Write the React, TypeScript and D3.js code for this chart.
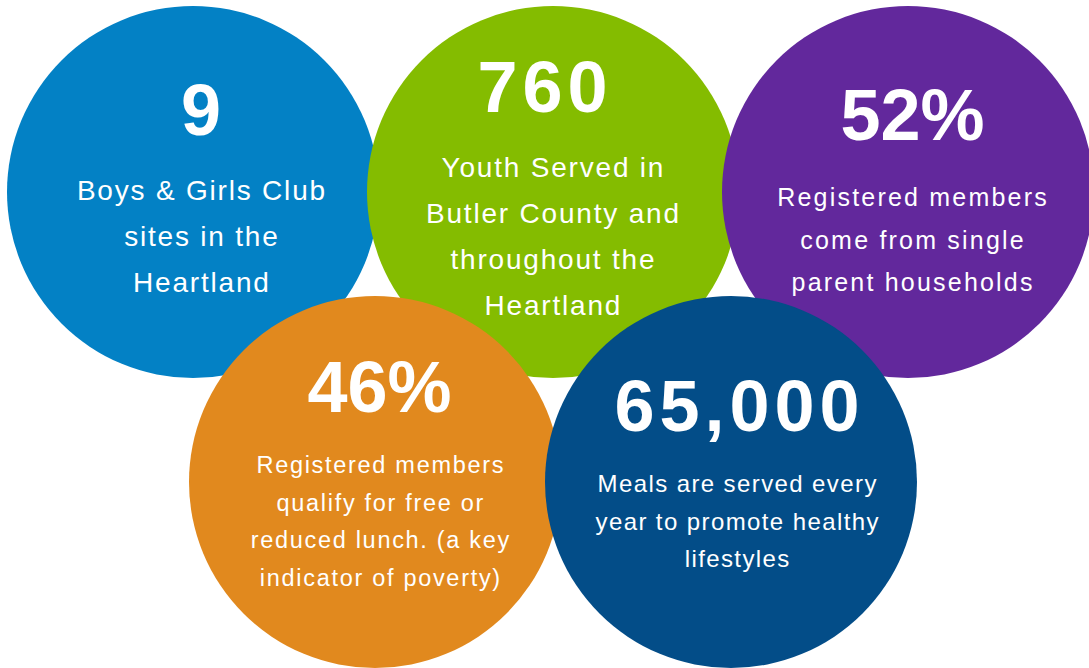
import React from "react";
import * as d3 from "d3";

const stats = ["9", "760", "52%", "46%", "65,000"];
const descriptions = [
  ["Boys & Girls Club", "sites in the", "Heartland"],
  ["Youth Served in", "Butler County and", "throughout the", "Heartland"],
  ["Registered members", "come from single", "parent households"],
  ["Registered members", "qualify for free or", "reduced lunch. (a key", "indicator of poverty)"],
  ["Meals are served every", "year to promote healthy", "lifestyles"],
];
const colors = ["#0381C5", "#84BC00", "#62289C", "#E1891E", "#034D88"];

// layout (positions/styles)
const W = 1089;
const H = 668;
const R = 186;
const layout = [
  { cx: 193, cy: 192, nx: 201, tx: 201, numY: 135, nls: 5, bodyY: 200, lh: 46, fs: 28, ls: 1.8 },
  { cx: 553, cy: 192, nx: 542.5, tx: 552.5, numY: 112, nls: 5, bodyY: 177, lh: 46, fs: 28, ls: 1.8 },
  { cx: 908, cy: 192, nx: 912.5, tx: 912, numY: 140, nls: 0, bodyY: 206, lh: 42.5, fs: 25, ls: 2.2 },
  { cx: 375, cy: 482, nx: 379.5, tx: 380, numY: 412, nls: 0, bodyY: 473, lh: 37.7, fs: 23.5, ls: 1.7 },
  { cx: 731, cy: 482, nx: 737, tx: 737, numY: 431, nls: 5, bodyY: 492, lh: 37.5, fs: 24, ls: 1.4 },
];

const FONT = "'Liberation Sans', Arial, sans-serif";

export default function App() {
  const rScale = d3.scaleSqrt().domain([0, 1]).range([0, R]);
  return (
    <svg
      width={W}
      height={H}
      style={{ position: "absolute", left: 0, top: 0, display: "block", background: "#fff" }}
    >
      {stats.map((s, i) => {
        const L = layout[i];
        return (
          <g key={i}>
            <circle cx={L.cx} cy={L.cy} r={rScale(1)} fill={colors[i]} />
            <text
              x={L.nx + L.nls / 2}
              y={L.numY}
              textAnchor="middle"
              fill="#fff"
              fontFamily={FONT}
              fontWeight={700}
              fontSize={72}
              letterSpacing={L.nls}
            >
              {s}
            </text>
            {descriptions[i].map((line, j) => (
              <text
                key={j}
                x={L.tx + L.ls / 2}
                y={L.bodyY + j * L.lh}
                textAnchor="middle"
                fill="#fff"
                fontFamily={FONT}
                fontSize={L.fs}
                letterSpacing={L.ls}
              >
                {line}
              </text>
            ))}
          </g>
        );
      })}
    </svg>
  );
}
